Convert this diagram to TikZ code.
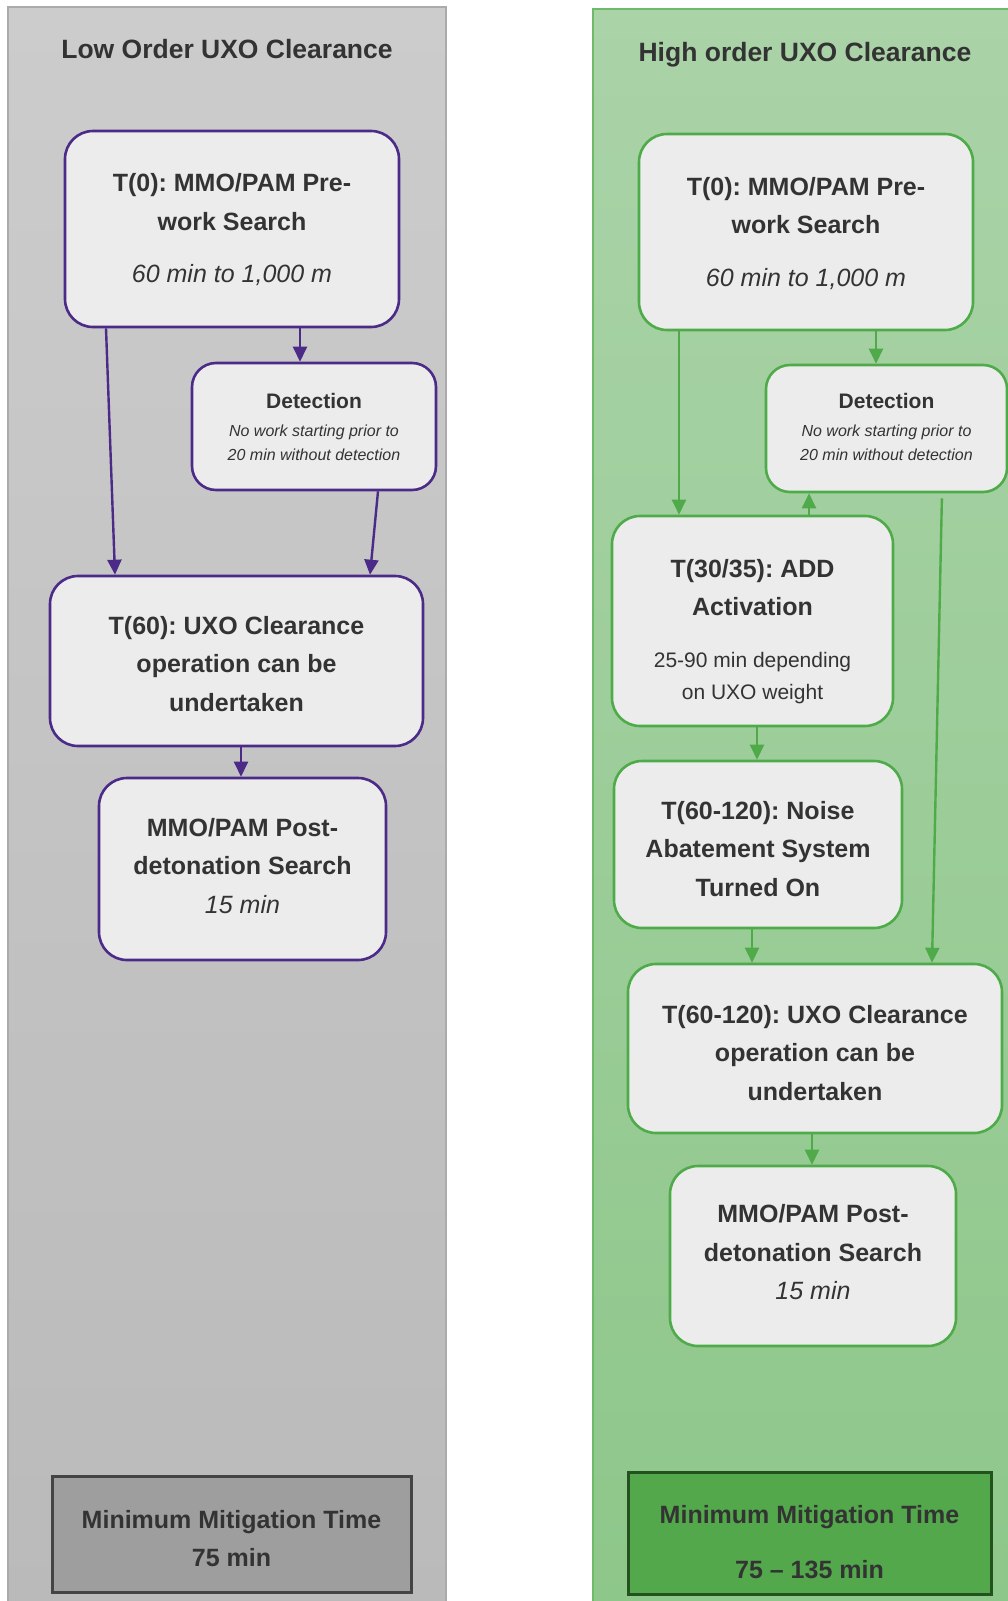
\documentclass[tikz,border=0pt]{standalone}
\usepackage{fontspec}
\setmainfont{Liberation Sans}
\usetikzlibrary{arrows.meta,calc}
\frenchspacing
\definecolor{txt}{HTML}{333333}
\definecolor{purp}{HTML}{4B2A88}
\definecolor{grn}{HTML}{4FAB4A}
\definecolor{boxfill}{HTML}{ECECEC}
\definecolor{panL1}{HTML}{CCCCCC}
\definecolor{panL2}{HTML}{BABABA}
\definecolor{panR1}{HTML}{AAD3A8}
\definecolor{panR2}{HTML}{8EC78A}
\definecolor{panLb}{HTML}{ABABAB}
\definecolor{panRb}{HTML}{6DBB68}
\definecolor{botL}{HTML}{9E9E9E}
\definecolor{botLb}{HTML}{444444}
\definecolor{botR}{HTML}{52A84B}
\definecolor{botRb}{HTML}{23521F}
\tikzset{
  basebox/.style={line width=2.6pt, fill=boxfill, inner sep=0pt},
  boxL/.style={basebox, draw=purp, rounded corners=28pt},
  boxR/.style={basebox, draw=grn, rounded corners=28pt},
  detbox/.style={rounded corners=24pt},
  btxt/.style={inner sep=0pt, align=center, text=txt, font=\fontsize{25}{38.5}\selectfont\bfseries},
  dtxt/.style={inner sep=0pt, align=center, text=txt, font=\fontsize{16}{24}\selectfont},
  botbox/.style={line width=3pt, inner sep=0pt},
  title/.style={text=txt, font=\fontsize{26.5}{32}\selectfont\bfseries},
  arrL/.style={draw=purp, line width=2.4pt, -{Triangle[length=15pt,width=14pt]}},
  arrR/.style={draw=grn, line width=2.4pt, -{Triangle[length=15pt,width=14pt]}},
}
\begin{document}
\begin{tikzpicture}[x=1pt,y=-1pt]
\useasboundingbox (0,0) rectangle (1008,1601);
% panels
\shade[top color=panL1, bottom color=panL2] (8,7) rectangle (446,1610);
\draw[panLb, line width=1.5pt] (8,1610) -- (8,7) -- (446,7) -- (446,1610);
\shade[top color=panR1, bottom color=panR2] (593,9) rectangle (1020,1610);
\draw[panRb, line width=1.5pt] (593,1610) -- (593,9) -- (1020,9);

\node[title] (tL) at (227,49) {Low Order UXO Clearance};
\node[title] (tR) at (805,55) {High order UXO Clearance};

% left column
\node[boxL, minimum width=334pt, minimum height=196pt] (A1) at (232,229) {};
\node[btxt] (A1t) at ([yshift=-1pt]A1.center)
  {T(0): MMO/PAM Pre-\\work Search\\[14pt]{\mdseries\itshape 60 min to 1,000 m}};
\node[boxL, detbox, minimum width=244pt, minimum height=127pt] (DL) at (314,426.5) {};
\node[dtxt] (DLt) at (DL.center)
  {{\fontsize{21}{24}\selectfont\bfseries Detection}\\[4pt]{\itshape No work starting prior to}\\{\itshape 20 min without detection}};
\node[boxL, minimum width=373pt, minimum height=170pt] (CL) at (236.5,661) {};
\node[btxt] (CLt) at ([yshift=-3pt]CL.center)
  {T(60): UXO Clearance\\operation can be\\undertaken};
\node[boxL, minimum width=287pt, minimum height=182pt] (PL) at (242.5,869) {};
\node[btxt] (PLt) at ([yshift=3pt]PL.center)
  {MMO/PAM Post-\\detonation Search\\{\mdseries\itshape 15 min}};
\node[botbox, draw=botLb, fill=botL, minimum width=359pt, minimum height=116pt] (ML) at (231.5,1534) {};
\node[btxt, font=\fontsize{25}{38}\selectfont\bfseries] (MLt) at ([yshift=-5pt]ML.center)
  {Minimum Mitigation Time\\75 min};

\draw[arrL] ([xshift=-126pt]A1.south) -- ([xshift=-121.5pt]CL.north);
\draw[arrL] ([xshift=68pt]A1.south) -- ([xshift=-14pt]DL.north);
\draw[arrL] ([xshift=64pt]DL.south) -- ([xshift=133.5pt]CL.north);
\draw[arrL] ([xshift=4.5pt]CL.south) -- ([xshift=-1.5pt]PL.north);

% right column
\node[boxR, minimum width=334pt, minimum height=196pt] (B1) at (806,232) {};
\node[btxt] (B1t) at ([yshift=-1.5pt]B1.center)
  {T(0): MMO/PAM Pre-\\work Search\\[14pt]{\mdseries\itshape 60 min to 1,000 m}};
\node[boxR, detbox, minimum width=241pt, minimum height=127pt] (DR) at (886.5,428.5) {};
\node[dtxt] (DRt) at ([yshift=1.5pt]DR.center)
  {{\fontsize{21}{24}\selectfont\bfseries Detection}\\[4pt]{\itshape No work starting prior to}\\{\itshape 20 min without detection}};
\node[boxR, minimum width=281pt, minimum height=210pt] (AD) at (752.5,621) {};
\node[btxt] (ADt) at ([yshift=-10.5pt]AD.center)
  {T(30/35): ADD\\Activation\\[13pt]{\mdseries\fontsize{21}{26}\selectfont 25-90 min depending}\\[-6pt]{\mdseries\fontsize{21}{26}\selectfont on UXO weight}};
\node[boxR, minimum width=288pt, minimum height=167pt] (NR) at (758,844.5) {};
\node[btxt] (NRt) at ([yshift=-4.5pt]NR.center)
  {T(60-120): Noise\\Abatement System\\Turned On};
\node[boxR, minimum width=374pt, minimum height=169pt] (CR) at (815,1048.5) {};
\node[btxt] (CRt) at ([yshift=-4.5pt]CR.center)
  {T(60-120): UXO Clearance\\operation can be\\undertaken};
\node[boxR, minimum width=286pt, minimum height=180pt] (PR) at (813,1256) {};
\node[btxt] (PRt) at ([yshift=3.5pt]PR.center)
  {MMO/PAM Post-\\detonation Search\\{\mdseries\itshape 15 min}};
\node[botbox, draw=botRb, fill=botR, minimum width=363pt, minimum height=122pt] (MR) at (809.5,1533) {};
\node[btxt, font=\fontsize{25}{38}\selectfont\bfseries] (MRt) at ([yshift=-9.5pt]MR.center)
  {Minimum Mitigation Time\\[17pt]75 -- 135 min};

\draw[arrR] ([xshift=-127pt]B1.south) -- ([xshift=-73.5pt]AD.north);
\draw[arrR] ([xshift=70pt]B1.south) -- ([xshift=-10.5pt]DR.north);
\draw[arrR] ([xshift=56.5pt]AD.north) -- ([xshift=-77.5pt]DR.south);
\draw[arrR, shorten <=5pt] ([xshift=55.5pt]DR.south) -- ([xshift=117pt]CR.north);
\draw[arrR] ([xshift=4.5pt]AD.south) -- ([xshift=-1pt]NR.north);
\draw[arrR] ([xshift=-6pt]NR.south) -- ([xshift=-63pt]CR.north);
\draw[arrR] ([xshift=-3pt]CR.south) -- ([xshift=-1pt]PR.north);
\end{tikzpicture}
\end{document}
